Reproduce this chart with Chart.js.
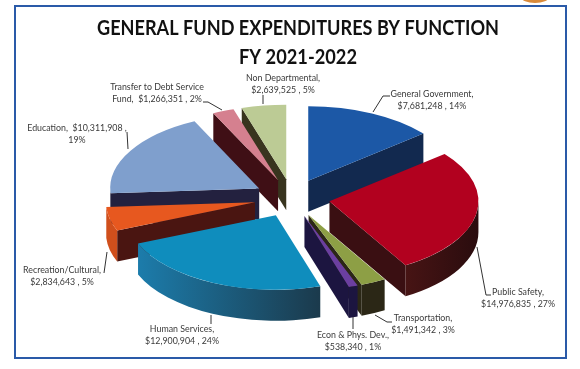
<!DOCTYPE html>
<html>
<head>
<meta charset="utf-8">
<style>
  html, body { margin: 0; padding: 0; background: #fff; }
  canvas { display: block; }
</style>
<script src="https://cdn.jsdelivr.net/npm/chart.js@4"></script>
</head>
<body>
<canvas id="chart" width="580" height="369"></canvas>
<script>
var categories = ["General Government", "Public Safety", "Transportation", "Econ & Phys. Dev.", "Human Services",
    "Recreation/Cultural", "Education", "Transfer to Debt Service Fund", "Non Departmental"];
var expenditures = [7681248, 14976835, 1491342, 538340, 12900904, 2834643, 10311908, 1266351, 2639525];
var percents = [14, 27, 3, 1, 24, 5, 19, 2, 5];
var titleLines = ["GENERAL FUND EXPENDITURES BY FUNCTION", "FY 2021-2022"];

// pie look
var squash = 0.5, depth = 31, explode = 38;
var topColors = ["#1c58a6", "#b2011f", "#8d9f45", "#6b3fa0", "#0f8dbd", "#e7581f", "#7f9fcd", "#d5808f", "#bccb95"];
var cutColors = ["#12294f", "#3a0f12", "#2b2716", "#1c1540", "#123a4e", "#4a1511", "#23213f", "#3f0f15", "#38341e"];
var rimColors = [["#12294f", "#12294f"], ["#2a0c0e", "#471414"], ["#2b2716", "#2b2716"], ["#1c1540", "#1c1540"],
    ["#1b3a4c", "#1c7cab"], ["#d04f1c", "#d04f1c"], ["#23213f", "#23213f"], ["#3f0f15", "#3f0f15"], ["#38341e", "#38341e"]];

// label text by line and where it sits, centre x / middle y of first line
var labelLines = [
    ["General Government,", "$7,681,248 , 14%"],
    ["Public Safety,", "$14,976,835 , 27%"],
    ["Transportation,", "$1,491,342 , 3%"],
    ["Econ & Phys. Dev.,", "$538,340 , 1%"],
    ["Human Services,", "$12,900,904 , 24%"],
    ["Recreation/Cultural,", "$2,834,643 , 5%"],
    ["Education,  $10,311,908 ,", "19%"],
    ["Transfer to Debt Service", "Fund,  $1,266,351 , 2%"],
    ["Non Departmental,", "$2,639,525 , 5%"]
];
var labelPos = [[432, 94], [518, 292], [423, 318], [353, 335], [182, 329], [62, 270], [77, 128], [157, 87], [283, 78]];
var leaders = [
    [[373, 112], [383, 96], [390, 96]],
    [[477, 247], [486, 295], [491, 295]],
    [[375, 315], [387, 322], [392, 322]],
    [[353, 317], [353, 329]],
    [[211, 315], [211, 324]],
    [[107, 252], [104, 273]],
    [[127, 132], [128, 149]],
    [[203, 102], [208, 102], [222, 110]],
    [[263, 95], [263, 104]]
];

function SliceCenter(arc) {
    var mid = (arc.startAngle + arc.endAngle) / 2;
    return { x: arc.x + explode * Math.cos(mid), y: arc.y + squash * explode * Math.sin(mid) };
}

function DrawCut(ctx, c, arc, angle, color) {
    var r = arc.outerRadius;
    var px = c.x + r * Math.cos(angle), py = c.y + squash * r * Math.sin(angle);
    ctx.fillStyle = color;
    ctx.beginPath();
    ctx.moveTo(c.x, c.y);
    ctx.lineTo(px, py);
    ctx.lineTo(px, py + depth);
    ctx.lineTo(c.x, c.y + depth);
    ctx.closePath();
    ctx.fill();
}

function DrawRim(ctx, c, arc, colors) {
    var a1 = Math.max(arc.startAngle, 0), a2 = Math.min(arc.endAngle, Math.PI);
    if (a2 <= a1) {
        return;
    }
    var r = arc.outerRadius;
    var grad = ctx.createLinearGradient(c.x + r * Math.cos(a1), 0, c.x + r * Math.cos(a2), 0);
    grad.addColorStop(0, colors[0]);
    grad.addColorStop(1, colors[1]);
    ctx.fillStyle = grad;
    ctx.beginPath();
    ctx.ellipse(c.x, c.y, r, squash * r, 0, a1, a2, false);
    ctx.ellipse(c.x, c.y + depth, r, squash * r, 0, a2, a1, true);
    ctx.closePath();
    ctx.fill();
}

var pie3d = {
    id: 'pie3d',
    beforeDraw: function (chart) {
        var ctx = chart.ctx;
        ctx.save();
        ctx.fillStyle = '#fff';
        ctx.fillRect(0, 0, 580, 369);
        ctx.strokeStyle = '#2a5aa8';
        ctx.lineWidth = 2;
        ctx.strokeRect(15, 6, 551, 352);
        ctx.fillStyle = '#d98a3a';
        ctx.beginPath();
        ctx.ellipse(535, -3, 14, 6, 0, 0, Math.PI * 2);
        ctx.fill();
        ctx.fillStyle = '#111';
        ctx.textAlign = 'center';
        ctx.textBaseline = 'middle';
        ctx.font = 'bold 21px Lato';
        // title is narrower than Lato sets it
        ctx.fillText(titleLines[0], 298, 28, 402);
        ctx.fillText(titleLines[1], 298, 57, 118);
        ctx.restore();
    },
    beforeDatasetsDraw: function (chart) {
        var ctx = chart.ctx;
        var arcs = chart.getDatasetMeta(0).data;
        var order = arcs.map(function (a, i) { return i; });
        order.sort(function (a, b) { return SliceCenter(arcs[a]).y - SliceCenter(arcs[b]).y; });
        order.forEach(function (i) {
            var arc = arcs[i];
            var c = SliceCenter(arc);
            ctx.save();
            // only the faces that look at the viewer
            if (Math.sin(arc.startAngle + Math.PI / 2) < 0) {
                DrawCut(ctx, c, arc, arc.startAngle, cutColors[i]);
            }
            if (Math.sin(arc.endAngle + Math.PI / 2) > 0) {
                DrawCut(ctx, c, arc, arc.endAngle, cutColors[i]);
            }
            DrawRim(ctx, c, arc, rimColors[i]);
            ctx.translate(c.x, c.y);
            ctx.scale(1, squash);
            ctx.translate(-arc.x, -arc.y);
            arc.draw(ctx);
            ctx.restore();
        });
        return false;
    },
    afterDraw: function (chart) {
        var ctx = chart.ctx;
        ctx.save();
        ctx.strokeStyle = '#333';
        ctx.lineWidth = 1;
        leaders.forEach(function (pts) {
            ctx.beginPath();
            pts.forEach(function (p, j) {
                if (j == 0) ctx.moveTo(p[0], p[1]);
                else ctx.lineTo(p[0], p[1]);
            });
            ctx.stroke();
        });
        ctx.fillStyle = '#3a3a3a';
        ctx.font = '9.6px Lato';
        ctx.textAlign = 'center';
        ctx.textBaseline = 'middle';
        labelLines.forEach(function (lines, i) {
            lines.forEach(function (line, j) {
                ctx.fillText(line, labelPos[i][0], labelPos[i][1] + j * 11.7, ctx.measureText(line).width * 0.92);
            });
        });
        ctx.restore();
    }
};

var myChart = new Chart(document.getElementById('chart'), {
    type: 'pie',
    data: {
        labels: categories,
        datasets: [{
            data: expenditures,
            backgroundColor: topColors,
            borderWidth: 0
        }]
    },
    options: {
        responsive: false,
        animation: false,
        radius: 149,
        layout: { padding: { left: 4, top: 27 } },
        plugins: {
            legend: { display: false },
            tooltip: { enabled: false }
        }
    },
    plugins: [pie3d]
});
</script>
</body>
</html>
